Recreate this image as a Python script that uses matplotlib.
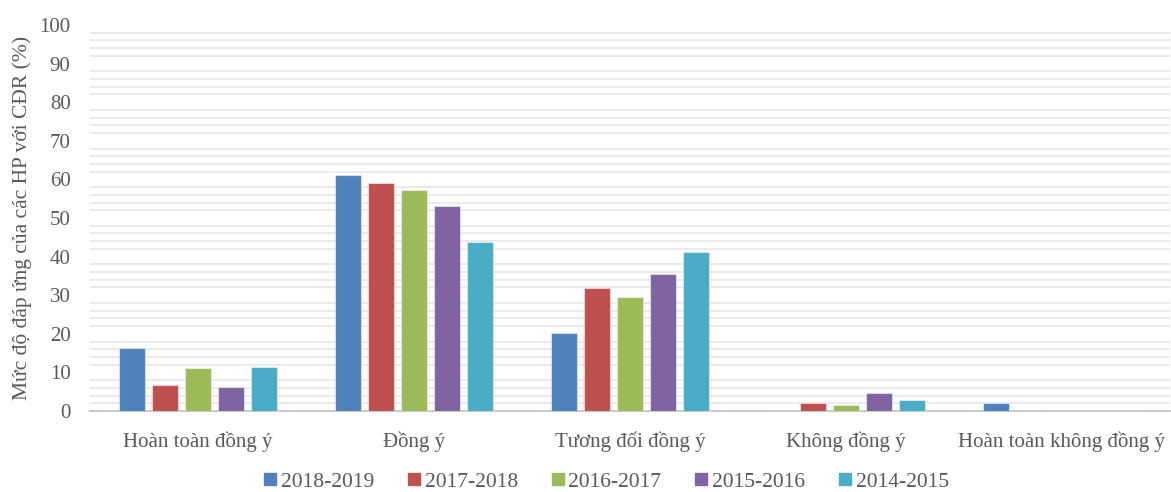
import matplotlib
matplotlib.use("Agg")
import matplotlib.pyplot as plt
from matplotlib.lines import Line2D
import numpy as np

categories = ["Hoàn toàn đồng ý", "Đồng ý", "Tương đối đồng ý", "Không đồng ý", "Hoàn toàn không đồng ý"]
series_names = ["2018-2019", "2017-2018", "2016-2017", "2015-2016", "2014-2015"]
v_2018_2019 = [16.3, 61.2, 20.1, 0.0, 2.0]
v_2017_2018 = [6.7, 59.0, 31.8, 2.0, 0.0]
v_2016_2017 = [11.1, 57.3, 29.5, 1.6, 0.0]
v_2015_2016 = [6.1, 53.1, 35.5, 4.7, 0.0]
v_2014_2015 = [11.5, 43.8, 41.3, 2.9, 0.0]
values = [v_2018_2019, v_2017_2018, v_2016_2017, v_2015_2016, v_2014_2015]
colors = ["#4F81BD", "#C0504D", "#9BBB59", "#8064A2", "#4BACC6"]
yticks = [0, 10, 20, 30, 40, 50, 60, 70, 80, 90, 100]
ylabel = "Mức độ đáp ứng của các HP với CĐR (%)"

plt.rcParams['font.family'] = ['Liberation Serif', 'DejaVu Serif']
grey = "#595959"

fig = plt.figure(figsize=(11.71, 4.92), dpi=100)
ax = fig.add_axes([90/1171, 1-411/492, 1080/1171, (411-25)/492])

x = np.arange(len(categories))
slot = 0.153
bw = 0.12
for i, (vals, c, name) in enumerate(zip(values, colors, series_names)):
    ax.bar(x + (i - 2) * slot, vals, width=bw, color=c, edgecolor=(1, 1, 1, 0.5),
           linewidth=0.8, zorder=3, label=name)

# minor gridlines every 2 units, excluding multiples of 10
for g in range(2, 100, 2):
    if g % 10 != 0:
        ax.axhline(g, color="#e6e6e6", linewidth=1.1, zorder=1)

ax.set_xlim(-0.5, len(categories) - 0.5)
ax.set_ylim(0, 100)
ax.set_yticks(yticks)
ax.set_yticklabels([str(t) for t in yticks])
ax.set_xticks(x)
ax.set_xticklabels(categories)
ax.tick_params(axis='both', length=0, colors=grey, labelsize=15)
ax.tick_params(axis='x', pad=15)
ax.tick_params(axis='y', pad=14)
for s in ["top", "right", "left"]:
    ax.spines[s].set_visible(False)
ax.spines["bottom"].set_color("#bfbfbf")
ax.spines["bottom"].set_linewidth(1.2)
ax.set_ylabel(ylabel, fontsize=15.5, color=grey)
ax.yaxis.set_label_coords((32 - 90) / 1080, 0.5)

handles = [Line2D([0], [0], marker='s', linestyle='none', markersize=9,
                  markerfacecolor=c, markeredgecolor=c) for c in colors]
fig.legend(handles, series_names, loc='center', bbox_to_anchor=(605/1171, 1-482/492),
           ncol=5, frameon=False, fontsize=15.5, handletextpad=0.1, columnspacing=1.45,
           labelcolor=grey, handlelength=0.8, borderpad=0.1)

fig.savefig("out.png", dpi=100)
